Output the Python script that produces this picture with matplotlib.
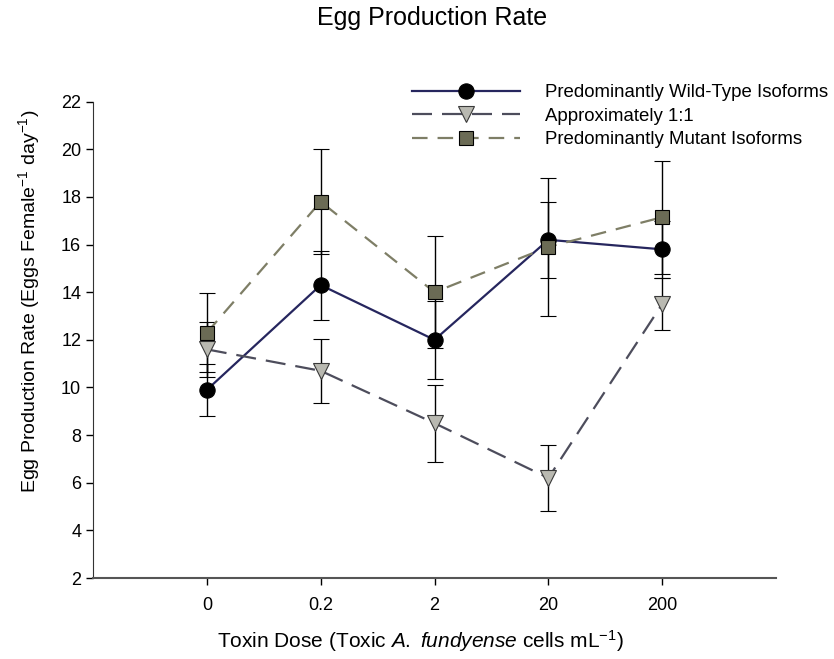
import matplotlib
matplotlib.use("Agg")
import matplotlib.pyplot as plt
from matplotlib.lines import Line2D
import numpy as np

plt.rcParams['font.family'] = ['Liberation Sans', 'DejaVu Sans']
plt.rcParams['mathtext.fontset'] = 'custom'
plt.rcParams['mathtext.rm'] = 'Liberation Sans'
plt.rcParams['mathtext.it'] = 'Liberation Sans:italic'

# --- data ---
dose_labels = ['0', '0.2', '2', '20', '200']

wild_type = [9.9, 14.3, 12.0, 16.2, 15.8]
wild_type_err = [1.1, 1.45, 1.65, 1.6, 1.2]

approx_1to1 = [11.6, 10.7, 8.5, 6.2, 13.5]
approx_1to1_err = [1.15, 1.35, 1.62, 1.4, 1.1]

mutant = [12.3, 17.8, 14.0, 15.9, 17.15]
mutant_err = [1.65, 2.2, 2.36, 2.9, 2.37]

series_names = ['Predominantly Wild-Type Isoforms', 'Approximately 1:1',
                'Predominantly Mutant Isoforms']

x = np.arange(len(dose_labels))

styles = [
    dict(color='#26265e', lw=1.6, linestyle='-', marker='o', ms=11,
         mfc='black', mec='black', mew=0.8),
    dict(color='#4d4d5c', lw=1.6, dashes=(9, 4.5), marker='v', ms=11,
         mfc='#b9b9b1', mec='#3a3a3a', mew=0.8),
    dict(color='#7e7e66', lw=1.6, dashes=(7, 4.5), marker='s', ms=10,
         mfc='#6b6b55', mec='black', mew=0.8),
]

fig = plt.figure(figsize=(8.34, 6.59), dpi=100)
ax = fig.add_axes([0.1115, 0.1229, 0.819, 0.7228])

for vals, errs, st in zip([wild_type, approx_1to1, mutant],
                          [wild_type_err, approx_1to1_err, mutant_err], styles):
    ax.errorbar(x, vals, yerr=errs, ecolor='black', elinewidth=1.0,
                capsize=6, capthick=1.0, zorder=3, **st)

ax.set_xlim(-1, 5)
ax.set_ylim(2, 22)
ax.set_xticks(x)
ax.set_xticklabels(dose_labels)
ax.set_yticks(np.arange(2, 23, 2))
ax.tick_params(axis='both', direction='out', labelsize=13, length=5, width=1)
ax.tick_params(axis='x', pad=9)

for side in ['top', 'right']:
    ax.spines[side].set_visible(False)
ax.spines['left'].set_color('#333333')
ax.spines['bottom'].set_color('#555555')
ax.spines['bottom'].set_linewidth(1.5)

ax.set_ylabel('Egg Production Rate (Eggs Female$^{-1}$ day$^{-1}$)', fontsize=14)
ax.yaxis.set_label_coords(-0.074, 0.58)
ax.set_xlabel(r'Toxin Dose (Toxic $\mathit{A.}$ $\mathit{fundyense}$ cells mL$^{-1}$)',
              fontsize=15)
ax.xaxis.set_label_coords(0.48, -0.105)

fig.text(0.518, 1 - 18 / 659, 'Egg Production Rate', fontsize=18,
         ha='center', va='center')

handles = [Line2D([], [], **st) for st in styles]
ax.legend(handles, series_names, loc='upper left',
          bbox_to_anchor=(412 / 834, 1 - 84 / 659), bbox_transform=fig.transFigure,
          frameon=False, fontsize=13.4, handlelength=5.8, labelspacing=0.36,
          handletextpad=1.35, borderpad=0, borderaxespad=0)

fig.savefig('out.png', dpi=100)
